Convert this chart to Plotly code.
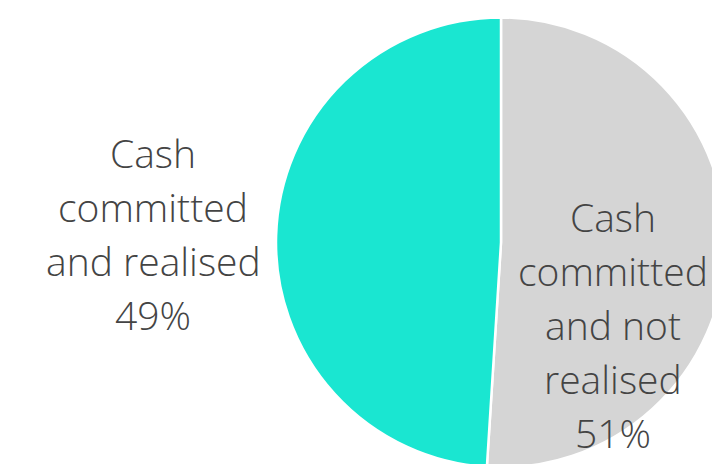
import plotly.graph_objects as go

# slice data (grey slice first, drawn clockwise from 12 o'clock)
labels = ["Cash committed and not realised", "Cash committed and realised"]
label_lines = [["Cash", "committed", "and not", "realised"], ["Cash", "committed", "and realised"]]
values = [51, 49]
colors = ["#D5D5D5", "#1AE6D1"]

# the figure is a bit larger than the browser window so the pie gets cropped like the original
W, H = 760, 500

fig = go.Figure()
fig.add_trace(go.Pie(
    labels=labels,
    values=values,
    sort=False,
    direction="clockwise",
    rotation=0,
    marker=dict(colors=colors, line=dict(color="white", width=2.5)),
    textinfo="none",
    hoverinfo="label+percent",
    showlegend=False,
    domain=dict(x=[276 / W, 726 / W], y=[(H - 467.5) / H, (H - 17.5) / H]),
))

# label text placed by hand (right inside, left outside), one annotation per line
label_pos = [(613, 232), (153, 168)]  # x centre, baseline of first line
line_gap = 54.2
for lines, val, (cx, base) in zip(label_lines, values, label_pos):
    for i, txt in enumerate(lines + [f"{val}%"]):
        y = base + i * line_gap - 16
        fig.add_annotation(
            x=cx / W, y=(H - y) / H, xref="paper", yref="paper",
            text=txt, showarrow=False, align="center",
            xanchor="center", yanchor="middle",
            font=dict(family="Open Sans", size=39, color="#444444", weight=300),
        )

fig.update_layout(
    width=W, height=H,
    margin=dict(l=0, r=0, t=0, b=0),
    paper_bgcolor="white",
    plot_bgcolor="white",
)

fig.write_html(
    "out.html",
    config={"displayModeBar": False},
    post_script="document.body.style.margin='0';"
                "document.body.style.overflow='hidden';"
                "document.documentElement.style.overflow='hidden';",
)
